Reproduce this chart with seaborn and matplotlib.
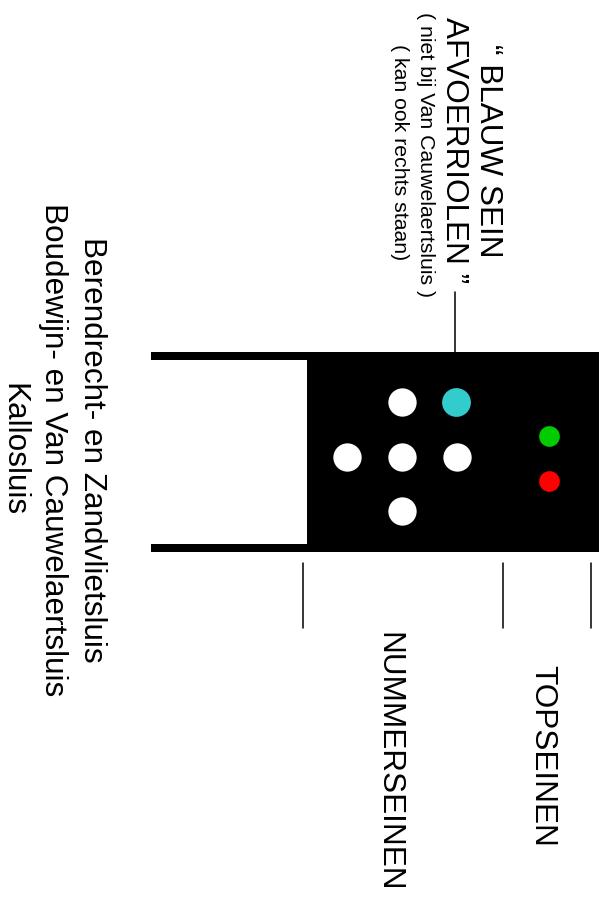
"""
Lock signal panel (rotated view): topseinen, nummerseinen and the blue
"afvoerriolen" lamp, drawn with seaborn on a pixel-sized canvas.
"""

import pandas as pd
import matplotlib.pyplot as plt
import matplotlib.patches as mpatches
import seaborn as sns

# Set plotting style
sns.set_style("white")
plt.rcParams['font.family'] = ['Liberation Sans', 'DejaVu Sans']
plt.rcParams['text.color'] = 'black'

# Lamps on the panel (canvas units, y pointing down)
lamp_names = ['nr_top', 'nr_left', 'nr_mid', 'nr_right', 'nr_bottom',
              'blauw', 'top_groen', 'top_rood']
lamp_x = [401.7, 347.0, 401.7, 456.7, 401.7, 456.0, 549.0, 549.0]
lamp_y = [401.7, 457.0, 457.0, 457.0, 511.3, 402.0, 435.7, 481.0]
lamp_kind = ['wit', 'wit', 'wit', 'wit', 'wit', 'blauw', 'groen', 'rood']

kind_colors = {'wit': '#FFFFFF', 'blauw': '#33CCCC',
               'groen': '#00CC00', 'rood': '#FF0000'}
kind_sizes = {'wit': 416, 'blauw': 430, 'groen': 222, 'rood': 222}

# Labels
sluis_lines = ['Berendrecht- en Zandvlietsluis',
               'Boudewijn- en Van Cauwelaertsluis',
               'Kallosluis']
blauw_lines = ['\u201c BLAUW SEIN', 'AFVOERRIOLEN \u201d']
blauw_notes = ['( niet bij Van Cauwelaertsluis )', '( kan ook rechts staan)']
group_labels = ['NUMMERSEINEN', 'TOPSEINEN']

W, H = 606, 897


def draw_panel(ax):
    """Frame, black signal board and marker lines."""
    ax.add_patch(mpatches.Rectangle((306.7, 352), 292.3, 200,
                                    facecolor='black', edgecolor='none'))
    ax.add_patch(mpatches.Rectangle((150.7, 352), 156, 8,
                                    facecolor='black', edgecolor='none'))
    ax.add_patch(mpatches.Rectangle((150.7, 544.3), 156, 7.7,
                                    facecolor='black', edgecolor='none'))
    # leader to the blue lamp text
    ax.plot([455, 455], [292, 352], color='black', lw=1.1)
    # group markers under the board
    for x in [302.7, 502.7, 590.7]:
        ax.plot([x, x], [563, 628], color='black', lw=1.1)


def draw_lamps(ax):
    df = pd.DataFrame({'name': lamp_names, 'x': lamp_x, 'y': lamp_y,
                       'kind': lamp_kind})
    for kind, sub in df.groupby('kind'):
        sns.scatterplot(data=sub, x='x', y='y', color=kind_colors[kind],
                        s=kind_sizes[kind], linewidth=0, ax=ax,
                        legend=False, zorder=3)


def draw_texts(ax):
    big = 22.7
    small = 15.3
    kw = dict(rotation=-90, ha='center', va='center', color='black')
    for x, line in zip([91.5, 52.5, 13.5], sluis_lines):
        ax.text(x, 450, line, fontsize=big, **kw)
    ax.text(488, 151, blauw_lines[0], fontsize=big, **kw)
    ax.text(453.5, 150, blauw_lines[1], fontsize=big, **kw)
    ax.text(425, 155, blauw_notes[0], fontsize=small, **kw)
    ax.text(400, 152, blauw_notes[1], fontsize=small, **kw)
    ax.text(388, 762, group_labels[0], fontsize=big, **kw)
    ax.text(542.5, 756, group_labels[1], fontsize=big, **kw)


def main():
    fig = plt.figure(figsize=(W / 100, H / 100), dpi=100)
    ax = fig.add_axes([0, 0, 1, 1])
    draw_panel(ax)
    draw_lamps(ax)
    draw_texts(ax)
    ax.set_xlim(0, W)
    ax.set_ylim(H, 0)
    ax.axis('off')
    fig.savefig('out.png', dpi=100)


if __name__ == "__main__":
    main()
